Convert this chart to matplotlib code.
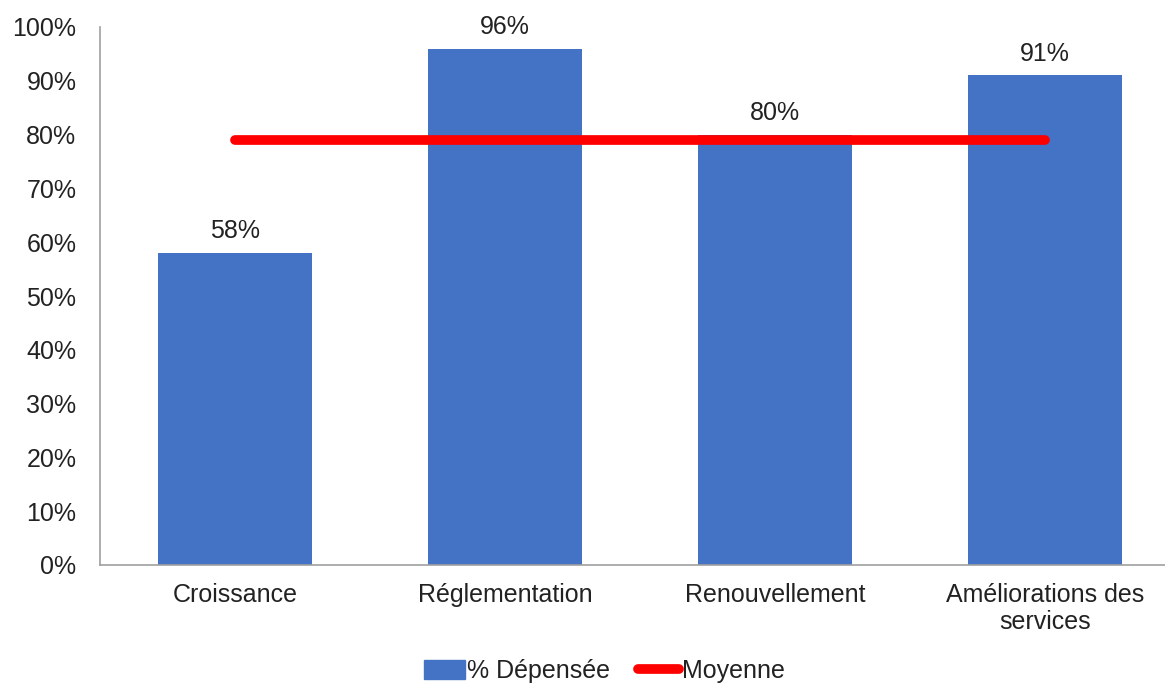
import matplotlib
matplotlib.use('Agg')
import matplotlib.pyplot as plt
from matplotlib.lines import Line2D
from matplotlib.patches import Patch

categories = ['Croissance', 'Réglementation', 'Renouvellement', 'Améliorations des\nservices']
spent = [58, 96, 80, 91]
average = 79
yticks = [0, 10, 20, 30, 40, 50, 60, 70, 80, 90, 100]

blue = '#4472C4'
red = '#FF0000'
plt.rcParams['font.family'] = 'Liberation Sans'

fig = plt.figure(figsize=(11.65, 6.83), dpi=100)
ax = fig.add_axes([100 / 1165, 118 / 683, 1080 / 1165, 538 / 683])

x = list(range(len(categories)))
ax.bar(x, spent, width=0.57, color=blue, zorder=2)
ax.plot([x[0], x[-1]], [average, average], color=red, lw=7,
        solid_capstyle='round', zorder=3)

for xi, v in zip(x, spent):
    ax.text(xi, v + 1.8, f'{v}%', ha='center', va='bottom', fontsize=18, color='#222222')

ax.set_xlim(-0.5, 3.5)
ax.set_ylim(0, 100)
ax.set_yticks(yticks)
ax.set_yticklabels([f'{t}%' for t in yticks])
ax.set_xticks(x)
ax.set_xticklabels(categories, linespacing=1.15)
ax.tick_params(axis='both', length=0, labelsize=18, colors='#222222')
ax.tick_params(axis='x', pad=13)
ax.tick_params(axis='y', pad=17)

for s in ['top', 'right']:
    ax.spines[s].set_visible(False)
for s in ['left', 'bottom']:
    ax.spines[s].set_color('#A0A0A0')
    ax.spines[s].set_linewidth(1.2)

handles = [Patch(color=blue, label='% Dépensée'),
           Line2D([], [], color=red, lw=7, solid_capstyle='round', label='Moyenne')]
fig.legend(handles=handles, loc='center', bbox_to_anchor=(604 / 1165, 1 - 671 / 683),
           ncol=2, frameon=False, fontsize=18, handlelength=1.65, handleheight=0.8,
           handletextpad=0.1, columnspacing=1.1, labelcolor='#222222')

fig.savefig('out.png', dpi=100)
